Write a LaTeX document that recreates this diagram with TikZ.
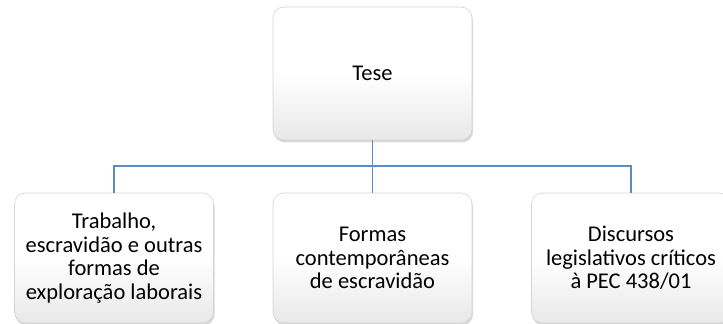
\documentclass[tikz,border=0pt]{standalone}
\usepackage{fontspec}
\setmainfont{Carlito}
\usetikzlibrary{shadows}
\definecolor{conn}{HTML}{5B8CC4}
\definecolor{boxline}{HTML}{D4D4D4}
\begin{document}
\begin{tikzpicture}[x=1pt,y=1pt,
  box/.style={draw=boxline, line width=0.6pt, rounded corners=11pt,
    top color=white, bottom color=black!9, middle color=white,
    drop shadow={opacity=0.3, shadow xshift=1pt, shadow yshift=-2.5pt},
    minimum width=199pt, align=center,
    font=\fontsize{22.5}{23.5}\selectfont},
  conline/.style={draw=conn, line width=1.2pt}]
\useasboundingbox (0,0) rectangle (723,324);
\node[box, minimum height=133pt] (top) at (372.5,250.5) {Tese};
\node[box, minimum height=130pt] (left) at (114,66) {Trabalho,\\escravidão e outras\\formas de\\exploração laborais};
\node[box, minimum height=130pt] (mid) at (372.5,66) {Formas\\contemporâneas\\de escravidão};
\node[box, minimum height=130pt] (right) at (631,66) {Discursos\\legislativos críticos\\à PEC 438/01};
\coordinate (bus) at (372.5,158);
\draw[conline] (top.south) -- (bus);
\draw[conline] (left.north) -- (left.north |- bus) -- (right.north |- bus) -- (right.north);
\draw[conline] (mid.north) -- (mid.north |- bus);
\end{tikzpicture}
\end{document}
